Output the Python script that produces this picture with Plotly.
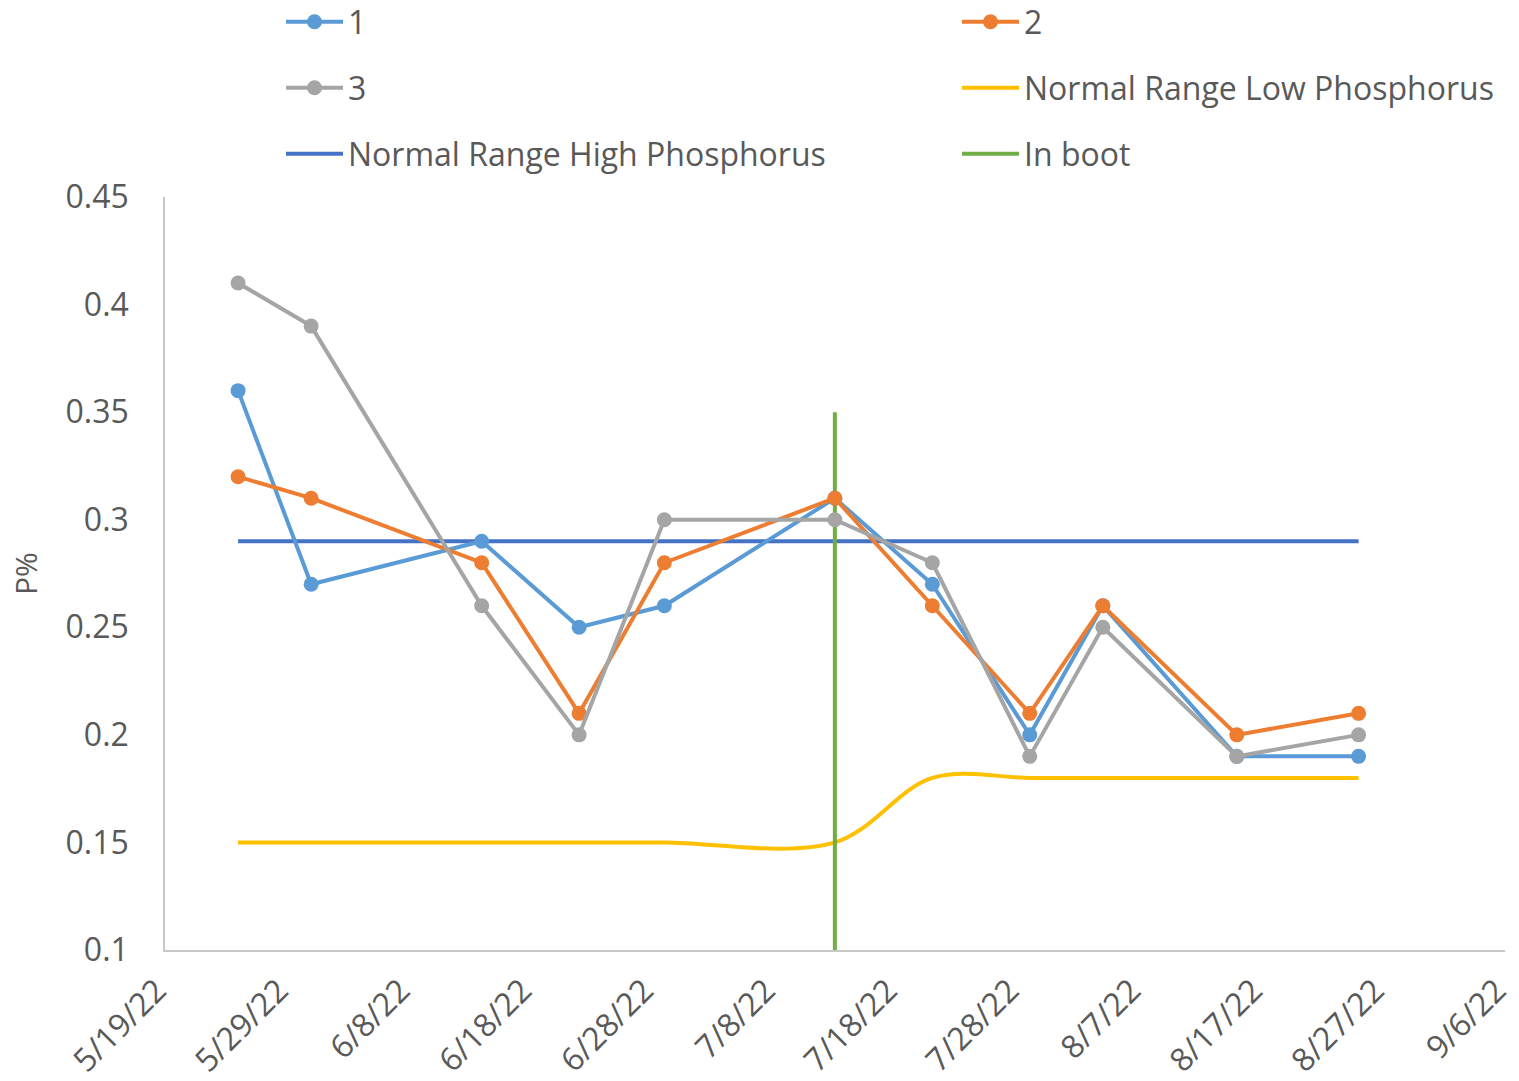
import plotly.graph_objects as go

# Sampling dates and phosphorus readings (%)
dates = ["2022-05-25", "2022-05-31", "2022-06-14", "2022-06-22", "2022-06-29",
         "2022-07-13", "2022-07-21", "2022-07-29", "2022-08-04", "2022-08-15",
         "2022-08-25"]
series_1 = [0.36, 0.27, 0.29, 0.25, 0.26, 0.31, 0.27, 0.20, 0.26, 0.19, 0.19]
series_2 = [0.32, 0.31, 0.28, 0.21, 0.28, 0.31, 0.26, 0.21, 0.26, 0.20, 0.21]
series_3 = [0.41, 0.39, 0.26, 0.20, 0.30, 0.30, 0.28, 0.19, 0.25, 0.19, 0.20]
normal_low = [0.15, 0.15, 0.15, 0.15, 0.15, 0.15, 0.18, 0.18, 0.18, 0.18, 0.18]
normal_high = [0.29, 0.29, 0.29, 0.29, 0.29, 0.29, 0.29, 0.29, 0.29, 0.29, 0.29]
boot_dates = ["2022-07-13", "2022-07-13"]
boot_values = [0.10, 0.35]

tick_dates = ["2022-05-19", "2022-05-29", "2022-06-08", "2022-06-18", "2022-06-28",
              "2022-07-08", "2022-07-18", "2022-07-28", "2022-08-07", "2022-08-17",
              "2022-08-27", "2022-09-06"]
tick_labels = ["5/19/22", "5/29/22", "6/8/22", "6/18/22", "6/28/22", "7/8/22",
               "7/18/22", "7/28/22", "8/7/22", "8/17/22", "8/27/22", "9/6/22"]
y_ticks = [0.1, 0.15, 0.2, 0.25, 0.3, 0.35, 0.4, 0.45]
y_tick_labels = ["0.1", "0.15", "0.2", "0.25", "0.3", "0.35", "0.4", "0.45"]

FONT = "Open Sans"
TEXT = "#595959"
LW = 4
MS = 15

fig = go.Figure()

# Reference lines first so the measured series draw on top
fig.add_trace(go.Scatter(x=dates, y=normal_low, name="Normal Range Low Phosphorus",
                         mode="lines",
                         line=dict(color="#FFC000", width=LW, shape="spline", smoothing=1),
                         legend="legend4"))
fig.add_trace(go.Scatter(x=dates, y=normal_high, name="Normal Range High Phosphorus",
                         mode="lines", line=dict(color="#4472C4", width=LW),
                         legend="legend5"))
fig.add_trace(go.Scatter(x=boot_dates, y=boot_values, name="In boot", mode="lines",
                         line=dict(color="#70AD47", width=LW), legend="legend6"))
fig.add_trace(go.Scatter(x=dates, y=series_1, name="1", mode="lines+markers",
                         line=dict(color="#5B9BD5", width=LW),
                         marker=dict(size=MS, color="#5B9BD5"), legend="legend"))
fig.add_trace(go.Scatter(x=dates, y=series_2, name="2", mode="lines+markers",
                         line=dict(color="#ED7D31", width=LW),
                         marker=dict(size=MS, color="#ED7D31"), legend="legend2"))
fig.add_trace(go.Scatter(x=dates, y=series_3, name="3", mode="lines+markers",
                         line=dict(color="#A5A5A5", width=LW),
                         marker=dict(size=MS, color="#A5A5A5"), legend="legend3"))

# One legend box per entry, laid out as a 2-column grid above the plot
PLOT_TOP, PLOT_BOTTOM, PLOT_LEFT, PLOT_W = 197, 950, 165, 1340


def legend_box(px_x, px_y):
    return dict(orientation="v", x=(px_x - PLOT_LEFT) / PLOT_W, xanchor="left",
                y=(PLOT_BOTTOM - px_y) / (PLOT_BOTTOM - PLOT_TOP), yanchor="middle",
                itemwidth=57, borderwidth=0, bgcolor="rgba(0,0,0,0)",
                font=dict(family=FONT, size=32, color=TEXT))


col1, col2 = 281, 957
row1, row2, row3 = 22, 88, 154

fig.update_layout(
    width=1519, height=1081,
    margin=dict(l=165, r=14, t=197, b=131, autoexpand=False),
    paper_bgcolor="white", plot_bgcolor="white",
    font=dict(family=FONT, size=31, color=TEXT),
    showlegend=True,
    legend=legend_box(col1, row1),
    legend2=legend_box(col2, row1),
    legend3=legend_box(col1, row2),
    legend4=legend_box(col2, row2),
    legend5=legend_box(col1, row3),
    legend6=legend_box(col2, row3),
    xaxis=dict(type="date", range=["2022-05-19", "2022-09-06 00:30"],
               tickmode="array", tickvals=tick_dates, ticktext=tick_labels,
               tickangle=-45, ticks="", showgrid=False, zeroline=False,
               showline=True, linecolor="#C8C8C8", linewidth=1.5,
               ticklabelstandoff=7, ticklabelshift=-8, ticklabeloverflow="allow",
               tickfont=dict(family=FONT, size=32, color=TEXT)),
    yaxis=dict(range=[0.1, 0.45], tickmode="array", tickvals=y_ticks,
               ticktext=y_tick_labels, ticks="", showgrid=False, zeroline=False,
               showline=True, linecolor="#C8C8C8", linewidth=1.5,
               ticklabelstandoff=28,
               tickfont=dict(family=FONT, size=32, color=TEXT),
               title=dict(text="P%", standoff=19,
                          font=dict(family=FONT, size=30, color=TEXT))),
)

fig.write_html("out.html")
